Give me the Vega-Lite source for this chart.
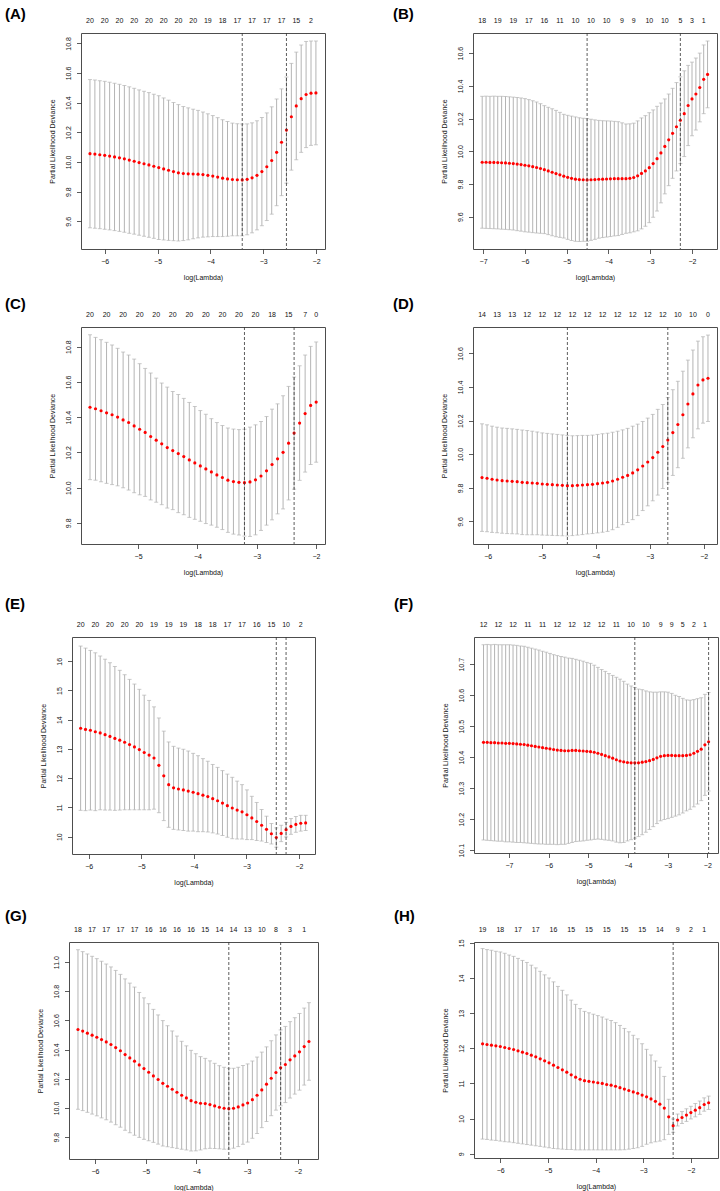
{
"$schema":"https://vega.github.io/schema/vega-lite/v6.json",
"padding":{"left":3,"top":6,"right":0,"bottom":0},
"columns":1,
"align":"none",
"spacing":15,
"concat":[
{"hconcat":[
{"spacing":0,"hconcat":[
{"width":1,"height":1,"data":{"values":[{"a":0}]},"mark":{"type":"point","opacity":0,"size":0},"view":{"stroke":null}},
{"width":244,"height":216,"title":{"text":"(A)","dx":-76,"dy":8.5},
"encoding":{"x":{"field":"x","type":"quantitative","scale":{"domain":[-6.45,-1.83],"nice":false,"zero":false},"axis":{"values":[-6,-5,-4,-3,-2],"format":"d","title":"log(Lambda)"}}},
"layer":[
{"data":{"name":"A"},"mark":{"type":"rule","color":"#b4b4b4"},"encoding":{"y":{"field":"lo","type":"quantitative","scale":{"domain":[9.413,10.87],"nice":false,"zero":false},"axis":{"values":[9.6,9.8,10,10.2,10.4,10.6,10.8],"format":".1f","title":"Partial Likelihood Deviance"}},"y2":{"field":"hi"}}},
{"data":{"name":"A"},"mark":{"type":"tick","orient":"horizontal","size":4,"thickness":1,"color":"#b4b4b4"},"encoding":{"y":{"field":"hi","type":"quantitative","scale":{"domain":[9.413,10.87],"nice":false,"zero":false},"axis":{"values":[9.6,9.8,10,10.2,10.4,10.6,10.8],"format":".1f","title":"Partial Likelihood Deviance"}}}},
{"data":{"name":"A"},"mark":{"type":"tick","orient":"horizontal","size":4,"thickness":1,"color":"#b4b4b4"},"encoding":{"y":{"field":"lo","type":"quantitative","scale":{"domain":[9.413,10.87],"nice":false,"zero":false},"axis":{"values":[9.6,9.8,10,10.2,10.4,10.6,10.8],"format":".1f","title":"Partial Likelihood Deviance"}}}},
{"data":{"name":"A"},"mark":{"type":"circle","size":10,"color":"#ff0000","opacity":1},"encoding":{"y":{"field":"m","type":"quantitative","scale":{"domain":[9.413,10.87],"nice":false,"zero":false},"axis":{"values":[9.6,9.8,10,10.2,10.4,10.6,10.8],"format":".1f","title":"Partial Likelihood Deviance"}}}},
{"data":{"name":"A_v"},"mark":{"type":"rule","color":"#333333","strokeDash":[3,2],"strokeWidth":0.8},"encoding":{}},
{"data":{"name":"A_n"},"mark":{"type":"text","dy":-10,"baseline":"alphabetic"},"encoding":{"y":{"datum":10.87,"type":"quantitative","scale":{"domain":[9.413,10.87],"nice":false,"zero":false},"axis":{"values":[9.6,9.8,10,10.2,10.4,10.6,10.8],"format":".1f","title":"Partial Likelihood Deviance"}},"text":{"field":"n","type":"nominal"}}}
]}
]},
{"width":244,"height":216,"title":{"text":"(B)","dx":-80,"dy":8.5},
"encoding":{"x":{"field":"x","type":"quantitative","scale":{"domain":[-7.24,-1.40],"nice":false,"zero":false},"axis":{"values":[-7,-6,-5,-4,-3,-2],"format":"d","title":"log(Lambda)"}}},
"layer":[
{"data":{"name":"B"},"mark":{"type":"rule","color":"#b4b4b4"},"encoding":{"y":{"field":"lo","type":"quantitative","scale":{"domain":[9.403,10.723],"nice":false,"zero":false},"axis":{"values":[9.6,9.8,10,10.2,10.4,10.6],"format":".1f","title":"Partial Likelihood Deviance"}},"y2":{"field":"hi"}}},
{"data":{"name":"B"},"mark":{"type":"tick","orient":"horizontal","size":4,"thickness":1,"color":"#b4b4b4"},"encoding":{"y":{"field":"hi","type":"quantitative","scale":{"domain":[9.403,10.723],"nice":false,"zero":false},"axis":{"values":[9.6,9.8,10,10.2,10.4,10.6],"format":".1f","title":"Partial Likelihood Deviance"}}}},
{"data":{"name":"B"},"mark":{"type":"tick","orient":"horizontal","size":4,"thickness":1,"color":"#b4b4b4"},"encoding":{"y":{"field":"lo","type":"quantitative","scale":{"domain":[9.403,10.723],"nice":false,"zero":false},"axis":{"values":[9.6,9.8,10,10.2,10.4,10.6],"format":".1f","title":"Partial Likelihood Deviance"}}}},
{"data":{"name":"B"},"mark":{"type":"circle","size":10,"color":"#ff0000","opacity":1},"encoding":{"y":{"field":"m","type":"quantitative","scale":{"domain":[9.403,10.723],"nice":false,"zero":false},"axis":{"values":[9.6,9.8,10,10.2,10.4,10.6],"format":".1f","title":"Partial Likelihood Deviance"}}}},
{"data":{"name":"B_v"},"mark":{"type":"rule","color":"#333333","strokeDash":[3,2],"strokeWidth":0.8},"encoding":{}},
{"data":{"name":"B_n"},"mark":{"type":"text","dy":-10,"baseline":"alphabetic"},"encoding":{"y":{"datum":10.723,"type":"quantitative","scale":{"domain":[9.403,10.723],"nice":false,"zero":false},"axis":{"values":[9.6,9.8,10,10.2,10.4,10.6],"format":".1f","title":"Partial Likelihood Deviance"}},"text":{"field":"n","type":"nominal"}}}
]}
],"spacing":66},
{"columns":1,"align":"none","spacing":20,"concat":[
{"hconcat":[
{"spacing":0,"hconcat":[
{"width":1,"height":1,"data":{"values":[{"a":0}]},"mark":{"type":"point","opacity":0,"size":0},"view":{"stroke":null}},
{"width":244,"height":217,"title":{"text":"(C)","dx":-76,"dy":5},
"encoding":{"x":{"field":"x","type":"quantitative","scale":{"domain":[-5.962,-1.848],"nice":false,"zero":false},"axis":{"values":[-5,-4,-3,-2],"format":"d","title":"log(Lambda)"}}},
"layer":[
{"data":{"name":"C"},"mark":{"type":"rule","color":"#b4b4b4"},"encoding":{"y":{"field":"lo","type":"quantitative","scale":{"domain":[9.68,10.911],"nice":false,"zero":false},"axis":{"values":[9.8,10,10.2,10.4,10.6,10.8],"format":".1f","title":"Partial Likelihood Deviance"}},"y2":{"field":"hi"}}},
{"data":{"name":"C"},"mark":{"type":"tick","orient":"horizontal","size":4,"thickness":1,"color":"#b4b4b4"},"encoding":{"y":{"field":"hi","type":"quantitative","scale":{"domain":[9.68,10.911],"nice":false,"zero":false},"axis":{"values":[9.8,10,10.2,10.4,10.6,10.8],"format":".1f","title":"Partial Likelihood Deviance"}}}},
{"data":{"name":"C"},"mark":{"type":"tick","orient":"horizontal","size":4,"thickness":1,"color":"#b4b4b4"},"encoding":{"y":{"field":"lo","type":"quantitative","scale":{"domain":[9.68,10.911],"nice":false,"zero":false},"axis":{"values":[9.8,10,10.2,10.4,10.6,10.8],"format":".1f","title":"Partial Likelihood Deviance"}}}},
{"data":{"name":"C"},"mark":{"type":"circle","size":10,"color":"#ff0000","opacity":1},"encoding":{"y":{"field":"m","type":"quantitative","scale":{"domain":[9.68,10.911],"nice":false,"zero":false},"axis":{"values":[9.8,10,10.2,10.4,10.6,10.8],"format":".1f","title":"Partial Likelihood Deviance"}}}},
{"data":{"name":"C_v"},"mark":{"type":"rule","color":"#333333","strokeDash":[3,2],"strokeWidth":0.8},"encoding":{}},
{"data":{"name":"C_n"},"mark":{"type":"text","dy":-10,"baseline":"alphabetic"},"encoding":{"y":{"datum":10.911,"type":"quantitative","scale":{"domain":[9.68,10.911],"nice":false,"zero":false},"axis":{"values":[9.8,10,10.2,10.4,10.6,10.8],"format":".1f","title":"Partial Likelihood Deviance"}},"text":{"field":"n","type":"nominal"}}}
]}
]},
{"width":244,"height":217,"title":{"text":"(D)","dx":-80,"dy":5},
"encoding":{"x":{"field":"x","type":"quantitative","scale":{"domain":[-6.272,-1.753],"nice":false,"zero":false},"axis":{"values":[-6,-5,-4,-3,-2],"format":"d","title":"log(Lambda)"}}},
"layer":[
{"data":{"name":"D"},"mark":{"type":"rule","color":"#b4b4b4"},"encoding":{"y":{"field":"lo","type":"quantitative","scale":{"domain":[9.466,10.757],"nice":false,"zero":false},"axis":{"values":[9.6,9.8,10,10.2,10.4,10.6],"format":".1f","title":"Partial Likelihood Deviance"}},"y2":{"field":"hi"}}},
{"data":{"name":"D"},"mark":{"type":"tick","orient":"horizontal","size":4,"thickness":1,"color":"#b4b4b4"},"encoding":{"y":{"field":"hi","type":"quantitative","scale":{"domain":[9.466,10.757],"nice":false,"zero":false},"axis":{"values":[9.6,9.8,10,10.2,10.4,10.6],"format":".1f","title":"Partial Likelihood Deviance"}}}},
{"data":{"name":"D"},"mark":{"type":"tick","orient":"horizontal","size":4,"thickness":1,"color":"#b4b4b4"},"encoding":{"y":{"field":"lo","type":"quantitative","scale":{"domain":[9.466,10.757],"nice":false,"zero":false},"axis":{"values":[9.6,9.8,10,10.2,10.4,10.6],"format":".1f","title":"Partial Likelihood Deviance"}}}},
{"data":{"name":"D"},"mark":{"type":"circle","size":10,"color":"#ff0000","opacity":1},"encoding":{"y":{"field":"m","type":"quantitative","scale":{"domain":[9.466,10.757],"nice":false,"zero":false},"axis":{"values":[9.6,9.8,10,10.2,10.4,10.6],"format":".1f","title":"Partial Likelihood Deviance"}}}},
{"data":{"name":"D_v"},"mark":{"type":"rule","color":"#333333","strokeDash":[3,2],"strokeWidth":0.8},"encoding":{}},
{"data":{"name":"D_n"},"mark":{"type":"text","dy":-10,"baseline":"alphabetic"},"encoding":{"y":{"datum":10.757,"type":"quantitative","scale":{"domain":[9.466,10.757],"nice":false,"zero":false},"axis":{"values":[9.6,9.8,10,10.2,10.4,10.6],"format":".1f","title":"Partial Likelihood Deviance"}},"text":{"field":"n","type":"nominal"}}}
]}
],"spacing":66},
{"columns":1,"align":"none","spacing":22,"concat":[
{"hconcat":[
{"spacing":0,"hconcat":[
{"width":1,"height":1,"data":{"values":[{"a":0}]},"mark":{"type":"point","opacity":0,"size":0},"view":{"stroke":null}},
{"width":243,"height":217,"title":{"text":"(E)","dx":-67,"dy":-5.5},
"encoding":{"x":{"field":"x","type":"quantitative","scale":{"domain":[-6.316,-1.696],"nice":false,"zero":false},"axis":{"values":[-6,-5,-4,-3,-2],"format":"d","title":"log(Lambda)"}}},
"layer":[
{"data":{"name":"E"},"mark":{"type":"rule","color":"#b4b4b4"},"encoding":{"y":{"field":"lo","type":"quantitative","scale":{"domain":[9.407,16.83],"nice":false,"zero":false},"axis":{"values":[10,11,12,13,14,15,16],"format":"d","title":"Partial Likelihood Deviance"}},"y2":{"field":"hi"}}},
{"data":{"name":"E"},"mark":{"type":"tick","orient":"horizontal","size":4,"thickness":1,"color":"#b4b4b4"},"encoding":{"y":{"field":"hi","type":"quantitative","scale":{"domain":[9.407,16.83],"nice":false,"zero":false},"axis":{"values":[10,11,12,13,14,15,16],"format":"d","title":"Partial Likelihood Deviance"}}}},
{"data":{"name":"E"},"mark":{"type":"tick","orient":"horizontal","size":4,"thickness":1,"color":"#b4b4b4"},"encoding":{"y":{"field":"lo","type":"quantitative","scale":{"domain":[9.407,16.83],"nice":false,"zero":false},"axis":{"values":[10,11,12,13,14,15,16],"format":"d","title":"Partial Likelihood Deviance"}}}},
{"data":{"name":"E"},"mark":{"type":"circle","size":10,"color":"#ff0000","opacity":1},"encoding":{"y":{"field":"m","type":"quantitative","scale":{"domain":[9.407,16.83],"nice":false,"zero":false},"axis":{"values":[10,11,12,13,14,15,16],"format":"d","title":"Partial Likelihood Deviance"}}}},
{"data":{"name":"E_v"},"mark":{"type":"rule","color":"#333333","strokeDash":[3,2],"strokeWidth":0.8},"encoding":{}},
{"data":{"name":"E_n"},"mark":{"type":"text","dy":-10,"baseline":"alphabetic"},"encoding":{"y":{"datum":16.83,"type":"quantitative","scale":{"domain":[9.407,16.83],"nice":false,"zero":false},"axis":{"values":[10,11,12,13,14,15,16],"format":"d","title":"Partial Likelihood Deviance"}},"text":{"field":"n","type":"nominal"}}}
]}
]},
{"width":244,"height":216,"title":{"text":"(F)","dx":-80,"dy":-5.5},
"encoding":{"x":{"field":"x","type":"quantitative","scale":{"domain":[-7.88,-1.73],"nice":false,"zero":false},"axis":{"values":[-7,-6,-5,-4,-3,-2],"format":"d","title":"log(Lambda)"}}},
"layer":[
{"data":{"name":"F"},"mark":{"type":"rule","color":"#b4b4b4"},"encoding":{"y":{"field":"lo","type":"quantitative","scale":{"domain":[10.091,10.788],"nice":false,"zero":false},"axis":{"values":[10.1,10.2,10.3,10.4,10.5,10.6,10.7],"format":".1f","title":"Partial Likelihood Deviance"}},"y2":{"field":"hi"}}},
{"data":{"name":"F"},"mark":{"type":"tick","orient":"horizontal","size":4,"thickness":1,"color":"#b4b4b4"},"encoding":{"y":{"field":"hi","type":"quantitative","scale":{"domain":[10.091,10.788],"nice":false,"zero":false},"axis":{"values":[10.1,10.2,10.3,10.4,10.5,10.6,10.7],"format":".1f","title":"Partial Likelihood Deviance"}}}},
{"data":{"name":"F"},"mark":{"type":"tick","orient":"horizontal","size":4,"thickness":1,"color":"#b4b4b4"},"encoding":{"y":{"field":"lo","type":"quantitative","scale":{"domain":[10.091,10.788],"nice":false,"zero":false},"axis":{"values":[10.1,10.2,10.3,10.4,10.5,10.6,10.7],"format":".1f","title":"Partial Likelihood Deviance"}}}},
{"data":{"name":"F"},"mark":{"type":"circle","size":10,"color":"#ff0000","opacity":1},"encoding":{"y":{"field":"m","type":"quantitative","scale":{"domain":[10.091,10.788],"nice":false,"zero":false},"axis":{"values":[10.1,10.2,10.3,10.4,10.5,10.6,10.7],"format":".1f","title":"Partial Likelihood Deviance"}}}},
{"data":{"name":"F_v"},"mark":{"type":"rule","color":"#333333","strokeDash":[3,2],"strokeWidth":0.8},"encoding":{}},
{"data":{"name":"F_n"},"mark":{"type":"text","dy":-10,"baseline":"alphabetic"},"encoding":{"y":{"datum":10.788,"type":"quantitative","scale":{"domain":[10.091,10.788],"nice":false,"zero":false},"axis":{"values":[10.1,10.2,10.3,10.4,10.5,10.6,10.7],"format":".1f","title":"Partial Likelihood Deviance"}},"text":{"field":"n","type":"nominal"}}}
]}
],"spacing":77},
{"hconcat":[
{"spacing":0,"hconcat":[
{"width":1,"height":1,"data":{"values":[{"a":0}]},"mark":{"type":"point","opacity":0,"size":0},"view":{"stroke":null}},
{"width":249,"height":217,"title":{"text":"(G)","dx":-64,"dy":2},
"encoding":{"x":{"field":"x","type":"quantitative","scale":{"domain":[-6.512,-1.599],"nice":false,"zero":false},"axis":{"values":[-6,-5,-4,-3,-2],"format":"d","title":"log(Lambda)"}}},
"layer":[
{"data":{"name":"G"},"mark":{"type":"rule","color":"#b4b4b4"},"encoding":{"y":{"field":"lo","type":"quantitative","scale":{"domain":[9.65,11.138],"nice":false,"zero":false},"axis":{"values":[9.8,10,10.2,10.4,10.6,10.8,11],"format":".1f","title":"Partial Likelihood Deviance"}},"y2":{"field":"hi"}}},
{"data":{"name":"G"},"mark":{"type":"tick","orient":"horizontal","size":4,"thickness":1,"color":"#b4b4b4"},"encoding":{"y":{"field":"hi","type":"quantitative","scale":{"domain":[9.65,11.138],"nice":false,"zero":false},"axis":{"values":[9.8,10,10.2,10.4,10.6,10.8,11],"format":".1f","title":"Partial Likelihood Deviance"}}}},
{"data":{"name":"G"},"mark":{"type":"tick","orient":"horizontal","size":4,"thickness":1,"color":"#b4b4b4"},"encoding":{"y":{"field":"lo","type":"quantitative","scale":{"domain":[9.65,11.138],"nice":false,"zero":false},"axis":{"values":[9.8,10,10.2,10.4,10.6,10.8,11],"format":".1f","title":"Partial Likelihood Deviance"}}}},
{"data":{"name":"G"},"mark":{"type":"circle","size":10,"color":"#ff0000","opacity":1},"encoding":{"y":{"field":"m","type":"quantitative","scale":{"domain":[9.65,11.138],"nice":false,"zero":false},"axis":{"values":[9.8,10,10.2,10.4,10.6,10.8,11],"format":".1f","title":"Partial Likelihood Deviance"}}}},
{"data":{"name":"G_v"},"mark":{"type":"rule","color":"#333333","strokeDash":[3,2],"strokeWidth":0.8},"encoding":{}},
{"data":{"name":"G_n"},"mark":{"type":"text","dy":-10,"baseline":"alphabetic"},"encoding":{"y":{"datum":11.138,"type":"quantitative","scale":{"domain":[9.65,11.138],"nice":false,"zero":false},"axis":{"values":[9.8,10,10.2,10.4,10.6,10.8,11],"format":".1f","title":"Partial Likelihood Deviance"}},"text":{"field":"n","type":"nominal"}}}
]}
]},
{"width":244,"height":216,"title":{"text":"(H)","dx":-80,"dy":2},
"encoding":{"x":{"field":"x","type":"quantitative","scale":{"domain":[-6.55,-1.43],"nice":false,"zero":false},"axis":{"values":[-6,-5,-4,-3,-2],"format":"d","title":"log(Lambda)"}}},
"layer":[
{"data":{"name":"H"},"mark":{"type":"rule","color":"#b4b4b4"},"encoding":{"y":{"field":"lo","type":"quantitative","scale":{"domain":[8.879,15.024],"nice":false,"zero":false},"axis":{"values":[9,10,11,12,13,14,15],"format":"d","title":"Partial Likelihood Deviance"}},"y2":{"field":"hi"}}},
{"data":{"name":"H"},"mark":{"type":"tick","orient":"horizontal","size":4,"thickness":1,"color":"#b4b4b4"},"encoding":{"y":{"field":"hi","type":"quantitative","scale":{"domain":[8.879,15.024],"nice":false,"zero":false},"axis":{"values":[9,10,11,12,13,14,15],"format":"d","title":"Partial Likelihood Deviance"}}}},
{"data":{"name":"H"},"mark":{"type":"tick","orient":"horizontal","size":4,"thickness":1,"color":"#b4b4b4"},"encoding":{"y":{"field":"lo","type":"quantitative","scale":{"domain":[8.879,15.024],"nice":false,"zero":false},"axis":{"values":[9,10,11,12,13,14,15],"format":"d","title":"Partial Likelihood Deviance"}}}},
{"data":{"name":"H"},"mark":{"type":"circle","size":10,"color":"#ff0000","opacity":1},"encoding":{"y":{"field":"m","type":"quantitative","scale":{"domain":[8.879,15.024],"nice":false,"zero":false},"axis":{"values":[9,10,11,12,13,14,15],"format":"d","title":"Partial Likelihood Deviance"}}}},
{"data":{"name":"H_v"},"mark":{"type":"rule","color":"#333333","strokeDash":[3,2],"strokeWidth":0.8},"encoding":{}},
{"data":{"name":"H_n"},"mark":{"type":"text","dy":-10,"baseline":"alphabetic"},"encoding":{"y":{"datum":15.024,"type":"quantitative","scale":{"domain":[8.879,15.024],"nice":false,"zero":false},"axis":{"values":[9,10,11,12,13,14,15],"format":"d","title":"Partial Likelihood Deviance"}},"text":{"field":"n","type":"nominal"}}}
]}
],"spacing":74}
]}
]}
],
"datasets":{
"A":[
{"x":-6.280,"m":10.056,"lo":9.556,"hi":10.556},{"x":-6.187,"m":10.053,"lo":9.553,"hi":10.553},{"x":-6.094,"m":10.049,"lo":9.550,"hi":10.548},{"x":-6.001,"m":10.045,"lo":9.546,"hi":10.544},{"x":-5.908,"m":10.040,"lo":9.542,"hi":10.538},{"x":-5.815,"m":10.034,"lo":9.537,"hi":10.531},{"x":-5.722,"m":10.028,"lo":9.532,"hi":10.524},{"x":-5.629,"m":10.021,"lo":9.526,"hi":10.516},{"x":-5.536,"m":10.013,"lo":9.519,"hi":10.507},{"x":-5.443,"m":10.005,"lo":9.513,"hi":10.497},{"x":-5.350,"m":9.996,"lo":9.506,"hi":10.486},{"x":-5.257,"m":9.988,"lo":9.499,"hi":10.477},{"x":-5.164,"m":9.980,"lo":9.492,"hi":10.468},{"x":-5.071,"m":9.971,"lo":9.485,"hi":10.457},{"x":-4.978,"m":9.962,"lo":9.477,"hi":10.447},{"x":-4.885,"m":9.953,"lo":9.474,"hi":10.432},{"x":-4.792,"m":9.944,"lo":9.471,"hi":10.417},{"x":-4.699,"m":9.935,"lo":9.469,"hi":10.401},{"x":-4.606,"m":9.927,"lo":9.467,"hi":10.387},{"x":-4.513,"m":9.922,"lo":9.470,"hi":10.374},{"x":-4.420,"m":9.920,"lo":9.475,"hi":10.365},{"x":-4.327,"m":9.919,"lo":9.482,"hi":10.356},{"x":-4.234,"m":9.918,"lo":9.488,"hi":10.348},{"x":-4.141,"m":9.915,"lo":9.493,"hi":10.337},{"x":-4.048,"m":9.910,"lo":9.495,"hi":10.325},{"x":-3.955,"m":9.905,"lo":9.497,"hi":10.313},{"x":-3.862,"m":9.898,"lo":9.497,"hi":10.299},{"x":-3.769,"m":9.891,"lo":9.497,"hi":10.285},{"x":-3.676,"m":9.886,"lo":9.499,"hi":10.273},{"x":-3.583,"m":9.882,"lo":9.502,"hi":10.262},{"x":-3.490,"m":9.880,"lo":9.502,"hi":10.258},{"x":-3.397,"m":9.879,"lo":9.502,"hi":10.256},{"x":-3.304,"m":9.883,"lo":9.509,"hi":10.257},{"x":-3.211,"m":9.893,"lo":9.522,"hi":10.264},{"x":-3.118,"m":9.910,"lo":9.542,"hi":10.278},{"x":-3.025,"m":9.935,"lo":9.570,"hi":10.300},{"x":-2.932,"m":9.968,"lo":9.605,"hi":10.331},{"x":-2.839,"m":10.010,"lo":9.648,"hi":10.372},{"x":-2.746,"m":10.065,"lo":9.705,"hi":10.425},{"x":-2.653,"m":10.133,"lo":9.773,"hi":10.493},{"x":-2.560,"m":10.215,"lo":9.857,"hi":10.573},{"x":-2.467,"m":10.305,"lo":9.945,"hi":10.665},{"x":-2.374,"m":10.378,"lo":10.015,"hi":10.741},{"x":-2.281,"m":10.427,"lo":10.065,"hi":10.789},{"x":-2.188,"m":10.455,"lo":10.097,"hi":10.813},{"x":-2.095,"m":10.464,"lo":10.112,"hi":10.816},{"x":-2.002,"m":10.466,"lo":10.116,"hi":10.816}],
"A_n":[{"x":-6.280,"n":"20"},{"x":-6.001,"n":"20"},{"x":-5.722,"n":"20"},{"x":-5.443,"n":"20"},{"x":-5.164,"n":"20"},{"x":-4.885,"n":"20"},{"x":-4.606,"n":"20"},{"x":-4.327,"n":"20"},{"x":-4.048,"n":"19"},{"x":-3.769,"n":"18"},{"x":-3.490,"n":"17"},{"x":-3.211,"n":"17"},{"x":-2.932,"n":"17"},{"x":-2.653,"n":"17"},{"x":-2.374,"n":"15"},{"x":-2.095,"n":"2"}],
"A_v":[{"x":-3.397},{"x":-2.560}],
"B":[
{"x":-7.020,"m":9.933,"lo":9.530,"hi":10.336},{"x":-6.927,"m":9.933,"lo":9.529,"hi":10.337},{"x":-6.834,"m":9.932,"lo":9.528,"hi":10.336},{"x":-6.741,"m":9.932,"lo":9.527,"hi":10.337},{"x":-6.648,"m":9.931,"lo":9.526,"hi":10.336},{"x":-6.555,"m":9.930,"lo":9.524,"hi":10.336},{"x":-6.462,"m":9.929,"lo":9.523,"hi":10.335},{"x":-6.369,"m":9.927,"lo":9.521,"hi":10.333},{"x":-6.276,"m":9.925,"lo":9.519,"hi":10.331},{"x":-6.183,"m":9.922,"lo":9.515,"hi":10.329},{"x":-6.090,"m":9.919,"lo":9.512,"hi":10.326},{"x":-5.997,"m":9.915,"lo":9.508,"hi":10.322},{"x":-5.904,"m":9.911,"lo":9.506,"hi":10.316},{"x":-5.811,"m":9.906,"lo":9.503,"hi":10.309},{"x":-5.718,"m":9.901,"lo":9.501,"hi":10.301},{"x":-5.625,"m":9.895,"lo":9.499,"hi":10.291},{"x":-5.532,"m":9.888,"lo":9.497,"hi":10.279},{"x":-5.439,"m":9.880,"lo":9.491,"hi":10.269},{"x":-5.346,"m":9.872,"lo":9.484,"hi":10.260},{"x":-5.253,"m":9.864,"lo":9.478,"hi":10.250},{"x":-5.160,"m":9.856,"lo":9.474,"hi":10.238},{"x":-5.067,"m":9.848,"lo":9.470,"hi":10.226},{"x":-4.974,"m":9.841,"lo":9.462,"hi":10.220},{"x":-4.881,"m":9.835,"lo":9.455,"hi":10.215},{"x":-4.788,"m":9.830,"lo":9.450,"hi":10.210},{"x":-4.695,"m":9.827,"lo":9.449,"hi":10.205},{"x":-4.602,"m":9.826,"lo":9.450,"hi":10.202},{"x":-4.509,"m":9.825,"lo":9.450,"hi":10.200},{"x":-4.416,"m":9.826,"lo":9.456,"hi":10.196},{"x":-4.323,"m":9.827,"lo":9.462,"hi":10.192},{"x":-4.230,"m":9.829,"lo":9.469,"hi":10.189},{"x":-4.137,"m":9.830,"lo":9.473,"hi":10.187},{"x":-4.044,"m":9.831,"lo":9.476,"hi":10.186},{"x":-3.951,"m":9.832,"lo":9.479,"hi":10.185},{"x":-3.858,"m":9.833,"lo":9.483,"hi":10.183},{"x":-3.765,"m":9.833,"lo":9.485,"hi":10.181},{"x":-3.672,"m":9.833,"lo":9.492,"hi":10.174},{"x":-3.579,"m":9.833,"lo":9.499,"hi":10.167},{"x":-3.486,"m":9.835,"lo":9.502,"hi":10.168},{"x":-3.393,"m":9.840,"lo":9.508,"hi":10.172},{"x":-3.300,"m":9.850,"lo":9.514,"hi":10.186},{"x":-3.207,"m":9.865,"lo":9.526,"hi":10.204},{"x":-3.114,"m":9.880,"lo":9.542,"hi":10.218},{"x":-3.021,"m":9.900,"lo":9.564,"hi":10.236},{"x":-2.928,"m":9.925,"lo":9.597,"hi":10.253},{"x":-2.835,"m":9.955,"lo":9.635,"hi":10.275},{"x":-2.742,"m":9.990,"lo":9.685,"hi":10.295},{"x":-2.649,"m":10.030,"lo":9.740,"hi":10.320},{"x":-2.556,"m":10.070,"lo":9.790,"hi":10.350},{"x":-2.463,"m":10.110,"lo":9.835,"hi":10.385},{"x":-2.370,"m":10.150,"lo":9.880,"hi":10.420},{"x":-2.277,"m":10.190,"lo":9.925,"hi":10.455},{"x":-2.184,"m":10.230,"lo":9.968,"hi":10.492},{"x":-2.091,"m":10.280,"lo":10.035,"hi":10.525},{"x":-1.998,"m":10.320,"lo":10.095,"hi":10.545},{"x":-1.905,"m":10.350,"lo":10.130,"hi":10.570},{"x":-1.812,"m":10.390,"lo":10.180,"hi":10.600},{"x":-1.719,"m":10.440,"lo":10.230,"hi":10.650},{"x":-1.626,"m":10.470,"lo":10.266,"hi":10.674}],
"B_n":[{"x":-7.020,"n":"18"},{"x":-6.648,"n":"19"},{"x":-6.276,"n":"19"},{"x":-5.904,"n":"17"},{"x":-5.532,"n":"16"},{"x":-5.160,"n":"11"},{"x":-4.788,"n":"10"},{"x":-4.416,"n":"10"},{"x":-4.044,"n":"10"},{"x":-3.672,"n":"9"},{"x":-3.393,"n":"9"},{"x":-3.021,"n":"10"},{"x":-2.649,"n":"10"},{"x":-2.277,"n":"5"},{"x":-1.998,"n":"3"},{"x":-1.719,"n":"1"}],
"B_v":[{"x":-4.509},{"x":-2.277}],
"C":[
{"x":-5.810,"m":10.456,"lo":10.045,"hi":10.867},{"x":-5.717,"m":10.447,"lo":10.042,"hi":10.852},{"x":-5.624,"m":10.436,"lo":10.033,"hi":10.839},{"x":-5.531,"m":10.424,"lo":10.024,"hi":10.824},{"x":-5.438,"m":10.413,"lo":10.017,"hi":10.809},{"x":-5.345,"m":10.400,"lo":10.010,"hi":10.790},{"x":-5.252,"m":10.384,"lo":9.999,"hi":10.769},{"x":-5.159,"m":10.369,"lo":9.986,"hi":10.752},{"x":-5.066,"m":10.350,"lo":9.971,"hi":10.729},{"x":-4.973,"m":10.331,"lo":9.959,"hi":10.703},{"x":-4.880,"m":10.313,"lo":9.950,"hi":10.676},{"x":-4.787,"m":10.290,"lo":9.930,"hi":10.650},{"x":-4.694,"m":10.269,"lo":9.917,"hi":10.621},{"x":-4.601,"m":10.248,"lo":9.903,"hi":10.593},{"x":-4.508,"m":10.227,"lo":9.884,"hi":10.570},{"x":-4.415,"m":10.210,"lo":9.875,"hi":10.545},{"x":-4.322,"m":10.193,"lo":9.858,"hi":10.528},{"x":-4.229,"m":10.176,"lo":9.846,"hi":10.506},{"x":-4.136,"m":10.157,"lo":9.831,"hi":10.483},{"x":-4.043,"m":10.140,"lo":9.820,"hi":10.460},{"x":-3.950,"m":10.123,"lo":9.809,"hi":10.437},{"x":-3.857,"m":10.106,"lo":9.796,"hi":10.416},{"x":-3.764,"m":10.089,"lo":9.787,"hi":10.391},{"x":-3.671,"m":10.072,"lo":9.775,"hi":10.369},{"x":-3.578,"m":10.057,"lo":9.762,"hi":10.352},{"x":-3.485,"m":10.042,"lo":9.746,"hi":10.338},{"x":-3.392,"m":10.034,"lo":9.736,"hi":10.332},{"x":-3.299,"m":10.030,"lo":9.731,"hi":10.329},{"x":-3.206,"m":10.028,"lo":9.725,"hi":10.331},{"x":-3.113,"m":10.032,"lo":9.723,"hi":10.343},{"x":-3.020,"m":10.044,"lo":9.732,"hi":10.356},{"x":-2.927,"m":10.066,"lo":9.757,"hi":10.375},{"x":-2.834,"m":10.095,"lo":9.787,"hi":10.403},{"x":-2.741,"m":10.131,"lo":9.817,"hi":10.445},{"x":-2.648,"m":10.163,"lo":9.851,"hi":10.475},{"x":-2.555,"m":10.200,"lo":9.879,"hi":10.521},{"x":-2.462,"m":10.252,"lo":9.930,"hi":10.574},{"x":-2.369,"m":10.309,"lo":9.991,"hi":10.627},{"x":-2.276,"m":10.366,"lo":10.041,"hi":10.691},{"x":-2.183,"m":10.420,"lo":10.088,"hi":10.752},{"x":-2.090,"m":10.466,"lo":10.131,"hi":10.801},{"x":-1.997,"m":10.485,"lo":10.144,"hi":10.826}],
"C_n":[{"x":-5.810,"n":"20"},{"x":-5.531,"n":"20"},{"x":-5.252,"n":"20"},{"x":-4.973,"n":"20"},{"x":-4.694,"n":"20"},{"x":-4.415,"n":"20"},{"x":-4.136,"n":"20"},{"x":-3.857,"n":"20"},{"x":-3.578,"n":"20"},{"x":-3.299,"n":"20"},{"x":-3.020,"n":"20"},{"x":-2.741,"n":"18"},{"x":-2.462,"n":"15"},{"x":-2.183,"n":"7"},{"x":-1.997,"n":"0"}],
"C_v":[{"x":-3.206},{"x":-2.369}],
"D":[
{"x":-6.105,"m":9.861,"lo":9.541,"hi":10.181},{"x":-6.012,"m":9.857,"lo":9.539,"hi":10.175},{"x":-5.919,"m":9.851,"lo":9.535,"hi":10.167},{"x":-5.826,"m":9.847,"lo":9.533,"hi":10.161},{"x":-5.733,"m":9.843,"lo":9.530,"hi":10.156},{"x":-5.640,"m":9.841,"lo":9.528,"hi":10.154},{"x":-5.547,"m":9.839,"lo":9.527,"hi":10.151},{"x":-5.454,"m":9.837,"lo":9.526,"hi":10.148},{"x":-5.361,"m":9.833,"lo":9.522,"hi":10.144},{"x":-5.268,"m":9.831,"lo":9.521,"hi":10.141},{"x":-5.175,"m":9.829,"lo":9.521,"hi":10.137},{"x":-5.082,"m":9.827,"lo":9.521,"hi":10.133},{"x":-4.989,"m":9.823,"lo":9.519,"hi":10.127},{"x":-4.896,"m":9.821,"lo":9.518,"hi":10.124},{"x":-4.803,"m":9.819,"lo":9.517,"hi":10.121},{"x":-4.710,"m":9.817,"lo":9.516,"hi":10.118},{"x":-4.617,"m":9.815,"lo":9.515,"hi":10.115},{"x":-4.524,"m":9.813,"lo":9.514,"hi":10.112},{"x":-4.431,"m":9.813,"lo":9.516,"hi":10.110},{"x":-4.338,"m":9.815,"lo":9.519,"hi":10.111},{"x":-4.245,"m":9.817,"lo":9.522,"hi":10.112},{"x":-4.152,"m":9.819,"lo":9.526,"hi":10.112},{"x":-4.059,"m":9.821,"lo":9.528,"hi":10.114},{"x":-3.966,"m":9.825,"lo":9.532,"hi":10.118},{"x":-3.873,"m":9.829,"lo":9.536,"hi":10.122},{"x":-3.780,"m":9.833,"lo":9.541,"hi":10.125},{"x":-3.687,"m":9.841,"lo":9.551,"hi":10.131},{"x":-3.594,"m":9.851,"lo":9.565,"hi":10.137},{"x":-3.501,"m":9.863,"lo":9.581,"hi":10.145},{"x":-3.408,"m":9.874,"lo":9.594,"hi":10.154},{"x":-3.315,"m":9.889,"lo":9.611,"hi":10.167},{"x":-3.222,"m":9.907,"lo":9.635,"hi":10.179},{"x":-3.129,"m":9.930,"lo":9.665,"hi":10.195},{"x":-3.036,"m":9.954,"lo":9.693,"hi":10.215},{"x":-2.943,"m":9.980,"lo":9.723,"hi":10.237},{"x":-2.850,"m":10.012,"lo":9.757,"hi":10.267},{"x":-2.757,"m":10.046,"lo":9.796,"hi":10.296},{"x":-2.664,"m":10.084,"lo":9.831,"hi":10.337},{"x":-2.571,"m":10.129,"lo":9.874,"hi":10.384},{"x":-2.478,"m":10.177,"lo":9.920,"hi":10.434},{"x":-2.385,"m":10.235,"lo":9.976,"hi":10.494},{"x":-2.292,"m":10.299,"lo":10.038,"hi":10.560},{"x":-2.199,"m":10.359,"lo":10.098,"hi":10.620},{"x":-2.106,"m":10.412,"lo":10.151,"hi":10.673},{"x":-2.013,"m":10.442,"lo":10.185,"hi":10.699},{"x":-1.920,"m":10.452,"lo":10.195,"hi":10.709}],
"D_n":[{"x":-6.105,"n":"14"},{"x":-5.826,"n":"13"},{"x":-5.547,"n":"13"},{"x":-5.268,"n":"12"},{"x":-4.989,"n":"12"},{"x":-4.710,"n":"12"},{"x":-4.431,"n":"12"},{"x":-4.152,"n":"12"},{"x":-3.873,"n":"12"},{"x":-3.594,"n":"12"},{"x":-3.315,"n":"12"},{"x":-3.036,"n":"12"},{"x":-2.757,"n":"12"},{"x":-2.478,"n":"10"},{"x":-2.199,"n":"10"},{"x":-1.920,"n":"0"}],
"D_v":[{"x":-4.524},{"x":-2.664}],
"E":[
{"x":-6.152,"m":13.71,"lo":10.90,"hi":16.52},{"x":-6.059,"m":13.67,"lo":10.89,"hi":16.45},{"x":-5.966,"m":13.64,"lo":10.91,"hi":16.37},{"x":-5.873,"m":13.59,"lo":10.89,"hi":16.29},{"x":-5.780,"m":13.55,"lo":10.92,"hi":16.18},{"x":-5.687,"m":13.49,"lo":10.91,"hi":16.07},{"x":-5.594,"m":13.43,"lo":10.91,"hi":15.95},{"x":-5.501,"m":13.36,"lo":10.90,"hi":15.82},{"x":-5.408,"m":13.30,"lo":10.91,"hi":15.69},{"x":-5.315,"m":13.23,"lo":10.92,"hi":15.54},{"x":-5.222,"m":13.15,"lo":10.92,"hi":15.38},{"x":-5.129,"m":13.07,"lo":10.92,"hi":15.22},{"x":-5.036,"m":12.98,"lo":10.92,"hi":15.04},{"x":-4.943,"m":12.88,"lo":10.92,"hi":14.84},{"x":-4.850,"m":12.79,"lo":10.92,"hi":14.66},{"x":-4.757,"m":12.69,"lo":10.94,"hi":14.44},{"x":-4.664,"m":12.44,"lo":10.82,"hi":14.06},{"x":-4.571,"m":12.08,"lo":10.55,"hi":13.61},{"x":-4.478,"m":11.78,"lo":10.32,"hi":13.24},{"x":-4.385,"m":11.67,"lo":10.25,"hi":13.09},{"x":-4.292,"m":11.63,"lo":10.23,"hi":13.03},{"x":-4.199,"m":11.60,"lo":10.21,"hi":12.99},{"x":-4.106,"m":11.56,"lo":10.19,"hi":12.93},{"x":-4.013,"m":11.52,"lo":10.19,"hi":12.85},{"x":-3.920,"m":11.47,"lo":10.17,"hi":12.77},{"x":-3.827,"m":11.42,"lo":10.17,"hi":12.67},{"x":-3.734,"m":11.37,"lo":10.16,"hi":12.58},{"x":-3.641,"m":11.30,"lo":10.13,"hi":12.47},{"x":-3.548,"m":11.23,"lo":10.09,"hi":12.37},{"x":-3.455,"m":11.15,"lo":10.04,"hi":12.26},{"x":-3.362,"m":11.06,"lo":9.98,"hi":12.14},{"x":-3.269,"m":10.98,"lo":9.93,"hi":12.03},{"x":-3.176,"m":10.91,"lo":9.92,"hi":11.90},{"x":-3.083,"m":10.85,"lo":9.92,"hi":11.78},{"x":-2.990,"m":10.75,"lo":9.90,"hi":11.60},{"x":-2.897,"m":10.64,"lo":9.90,"hi":11.38},{"x":-2.804,"m":10.52,"lo":9.87,"hi":11.17},{"x":-2.711,"m":10.39,"lo":9.85,"hi":10.93},{"x":-2.618,"m":10.25,"lo":9.80,"hi":10.70},{"x":-2.525,"m":10.10,"lo":9.75,"hi":10.45},{"x":-2.432,"m":9.97,"lo":9.64,"hi":10.30},{"x":-2.339,"m":10.11,"lo":9.83,"hi":10.39},{"x":-2.246,"m":10.24,"lo":9.99,"hi":10.49},{"x":-2.153,"m":10.35,"lo":10.08,"hi":10.62},{"x":-2.060,"m":10.42,"lo":10.15,"hi":10.69},{"x":-1.967,"m":10.46,"lo":10.19,"hi":10.73},{"x":-1.874,"m":10.47,"lo":10.21,"hi":10.73}],
"E_n":[{"x":-6.152,"n":"20"},{"x":-5.873,"n":"20"},{"x":-5.594,"n":"20"},{"x":-5.315,"n":"20"},{"x":-5.036,"n":"20"},{"x":-4.757,"n":"19"},{"x":-4.478,"n":"19"},{"x":-4.199,"n":"19"},{"x":-3.920,"n":"18"},{"x":-3.641,"n":"18"},{"x":-3.362,"n":"17"},{"x":-3.083,"n":"17"},{"x":-2.804,"n":"16"},{"x":-2.525,"n":"15"},{"x":-2.246,"n":"10"},{"x":-1.967,"n":"2"}],
"E_v":[{"x":-2.432},{"x":-2.246}],
"F":[
{"x":-7.640,"m":10.448,"lo":10.133,"hi":10.763},{"x":-7.547,"m":10.448,"lo":10.132,"hi":10.764},{"x":-7.454,"m":10.447,"lo":10.131,"hi":10.763},{"x":-7.361,"m":10.447,"lo":10.130,"hi":10.764},{"x":-7.268,"m":10.446,"lo":10.129,"hi":10.763},{"x":-7.175,"m":10.446,"lo":10.129,"hi":10.763},{"x":-7.082,"m":10.445,"lo":10.127,"hi":10.763},{"x":-6.989,"m":10.445,"lo":10.127,"hi":10.763},{"x":-6.896,"m":10.444,"lo":10.126,"hi":10.762},{"x":-6.803,"m":10.443,"lo":10.125,"hi":10.761},{"x":-6.710,"m":10.442,"lo":10.125,"hi":10.759},{"x":-6.617,"m":10.441,"lo":10.124,"hi":10.758},{"x":-6.524,"m":10.439,"lo":10.123,"hi":10.755},{"x":-6.431,"m":10.437,"lo":10.122,"hi":10.752},{"x":-6.338,"m":10.435,"lo":10.121,"hi":10.749},{"x":-6.245,"m":10.433,"lo":10.120,"hi":10.746},{"x":-6.152,"m":10.431,"lo":10.120,"hi":10.742},{"x":-6.059,"m":10.429,"lo":10.119,"hi":10.739},{"x":-5.966,"m":10.427,"lo":10.119,"hi":10.735},{"x":-5.873,"m":10.425,"lo":10.119,"hi":10.731},{"x":-5.780,"m":10.423,"lo":10.118,"hi":10.728},{"x":-5.687,"m":10.422,"lo":10.119,"hi":10.725},{"x":-5.594,"m":10.421,"lo":10.119,"hi":10.723},{"x":-5.501,"m":10.421,"lo":10.122,"hi":10.720},{"x":-5.408,"m":10.422,"lo":10.125,"hi":10.719},{"x":-5.315,"m":10.422,"lo":10.128,"hi":10.716},{"x":-5.222,"m":10.421,"lo":10.129,"hi":10.713},{"x":-5.129,"m":10.420,"lo":10.130,"hi":10.710},{"x":-5.036,"m":10.419,"lo":10.132,"hi":10.706},{"x":-4.943,"m":10.418,"lo":10.133,"hi":10.703},{"x":-4.850,"m":10.416,"lo":10.135,"hi":10.697},{"x":-4.757,"m":10.413,"lo":10.136,"hi":10.690},{"x":-4.664,"m":10.409,"lo":10.135,"hi":10.683},{"x":-4.571,"m":10.405,"lo":10.133,"hi":10.677},{"x":-4.478,"m":10.401,"lo":10.132,"hi":10.670},{"x":-4.385,"m":10.397,"lo":10.130,"hi":10.664},{"x":-4.292,"m":10.392,"lo":10.126,"hi":10.658},{"x":-4.199,"m":10.388,"lo":10.124,"hi":10.652},{"x":-4.106,"m":10.385,"lo":10.125,"hi":10.645},{"x":-4.013,"m":10.383,"lo":10.130,"hi":10.636},{"x":-3.920,"m":10.382,"lo":10.134,"hi":10.630},{"x":-3.827,"m":10.382,"lo":10.139,"hi":10.625},{"x":-3.734,"m":10.382,"lo":10.144,"hi":10.620},{"x":-3.641,"m":10.384,"lo":10.150,"hi":10.618},{"x":-3.548,"m":10.386,"lo":10.158,"hi":10.614},{"x":-3.455,"m":10.389,"lo":10.167,"hi":10.611},{"x":-3.362,"m":10.393,"lo":10.176,"hi":10.610},{"x":-3.269,"m":10.398,"lo":10.186,"hi":10.610},{"x":-3.176,"m":10.403,"lo":10.195,"hi":10.611},{"x":-3.083,"m":10.405,"lo":10.199,"hi":10.611},{"x":-2.990,"m":10.406,"lo":10.202,"hi":10.610},{"x":-2.897,"m":10.406,"lo":10.206,"hi":10.606},{"x":-2.804,"m":10.405,"lo":10.210,"hi":10.600},{"x":-2.711,"m":10.405,"lo":10.214,"hi":10.596},{"x":-2.618,"m":10.405,"lo":10.220,"hi":10.590},{"x":-2.525,"m":10.406,"lo":10.227,"hi":10.585},{"x":-2.432,"m":10.408,"lo":10.232,"hi":10.584},{"x":-2.339,"m":10.413,"lo":10.240,"hi":10.586},{"x":-2.246,"m":10.419,"lo":10.249,"hi":10.589},{"x":-2.153,"m":10.426,"lo":10.260,"hi":10.592},{"x":-2.060,"m":10.440,"lo":10.277,"hi":10.603},{"x":-1.967,"m":10.450,"lo":10.291,"hi":10.609}],
"F_n":[{"x":-7.640,"n":"12"},{"x":-7.268,"n":"12"},{"x":-6.896,"n":"12"},{"x":-6.524,"n":"11"},{"x":-6.152,"n":"11"},{"x":-5.780,"n":"12"},{"x":-5.408,"n":"12"},{"x":-5.036,"n":"12"},{"x":-4.664,"n":"12"},{"x":-4.292,"n":"11"},{"x":-3.920,"n":"10"},{"x":-3.548,"n":"10"},{"x":-3.176,"n":"9"},{"x":-2.897,"n":"9"},{"x":-2.618,"n":"5"},{"x":-2.339,"n":"2"},{"x":-2.060,"n":"1"}],
"F_v":[{"x":-3.827},{"x":-1.967}],
"G":[
{"x":-6.335,"m":10.538,"lo":9.991,"hi":11.085},{"x":-6.242,"m":10.527,"lo":9.982,"hi":11.072},{"x":-6.149,"m":10.513,"lo":9.970,"hi":11.056},{"x":-6.056,"m":10.499,"lo":9.958,"hi":11.040},{"x":-5.963,"m":10.485,"lo":9.946,"hi":11.024},{"x":-5.870,"m":10.469,"lo":9.932,"hi":11.006},{"x":-5.777,"m":10.453,"lo":9.919,"hi":10.987},{"x":-5.684,"m":10.435,"lo":9.903,"hi":10.967},{"x":-5.591,"m":10.414,"lo":9.885,"hi":10.943},{"x":-5.498,"m":10.392,"lo":9.868,"hi":10.916},{"x":-5.405,"m":10.366,"lo":9.847,"hi":10.885},{"x":-5.312,"m":10.343,"lo":9.830,"hi":10.856},{"x":-5.219,"m":10.321,"lo":9.813,"hi":10.829},{"x":-5.126,"m":10.295,"lo":9.798,"hi":10.792},{"x":-5.033,"m":10.270,"lo":9.785,"hi":10.755},{"x":-4.940,"m":10.245,"lo":9.775,"hi":10.715},{"x":-4.847,"m":10.220,"lo":9.764,"hi":10.676},{"x":-4.754,"m":10.195,"lo":9.752,"hi":10.638},{"x":-4.661,"m":10.169,"lo":9.739,"hi":10.599},{"x":-4.568,"m":10.149,"lo":9.734,"hi":10.564},{"x":-4.475,"m":10.128,"lo":9.728,"hi":10.528},{"x":-4.382,"m":10.108,"lo":9.723,"hi":10.493},{"x":-4.289,"m":10.087,"lo":9.717,"hi":10.457},{"x":-4.196,"m":10.069,"lo":9.712,"hi":10.426},{"x":-4.103,"m":10.050,"lo":9.705,"hi":10.395},{"x":-4.010,"m":10.039,"lo":9.706,"hi":10.372},{"x":-3.917,"m":10.032,"lo":9.712,"hi":10.352},{"x":-3.824,"m":10.030,"lo":9.720,"hi":10.340},{"x":-3.731,"m":10.023,"lo":9.723,"hi":10.323},{"x":-3.638,"m":10.014,"lo":9.722,"hi":10.306},{"x":-3.545,"m":10.005,"lo":9.720,"hi":10.290},{"x":-3.452,"m":9.998,"lo":9.717,"hi":10.279},{"x":-3.359,"m":9.995,"lo":9.718,"hi":10.272},{"x":-3.266,"m":9.998,"lo":9.724,"hi":10.272},{"x":-3.173,"m":10.007,"lo":9.735,"hi":10.279},{"x":-3.080,"m":10.021,"lo":9.751,"hi":10.291},{"x":-2.987,"m":10.034,"lo":9.766,"hi":10.302},{"x":-2.894,"m":10.057,"lo":9.792,"hi":10.322},{"x":-2.801,"m":10.087,"lo":9.825,"hi":10.349},{"x":-2.708,"m":10.124,"lo":9.865,"hi":10.383},{"x":-2.615,"m":10.163,"lo":9.907,"hi":10.419},{"x":-2.522,"m":10.204,"lo":9.947,"hi":10.461},{"x":-2.429,"m":10.243,"lo":9.985,"hi":10.501},{"x":-2.336,"m":10.275,"lo":10.015,"hi":10.535},{"x":-2.243,"m":10.298,"lo":10.037,"hi":10.559},{"x":-2.150,"m":10.330,"lo":10.068,"hi":10.592},{"x":-2.057,"m":10.357,"lo":10.095,"hi":10.619},{"x":-1.964,"m":10.385,"lo":10.122,"hi":10.648},{"x":-1.871,"m":10.421,"lo":10.157,"hi":10.685},{"x":-1.778,"m":10.456,"lo":10.190,"hi":10.722}],
"G_n":[{"x":-6.335,"n":"18"},{"x":-6.056,"n":"17"},{"x":-5.777,"n":"17"},{"x":-5.498,"n":"17"},{"x":-5.219,"n":"17"},{"x":-4.940,"n":"16"},{"x":-4.661,"n":"16"},{"x":-4.382,"n":"16"},{"x":-4.103,"n":"16"},{"x":-3.824,"n":"15"},{"x":-3.545,"n":"14"},{"x":-3.266,"n":"14"},{"x":-2.987,"n":"13"},{"x":-2.708,"n":"10"},{"x":-2.429,"n":"8"},{"x":-2.150,"n":"3"},{"x":-1.871,"n":"1"}],
"G_v":[{"x":-3.359},{"x":-2.336}],
"H":[
{"x":-6.370,"m":12.127,"lo":9.417,"hi":14.837},{"x":-6.277,"m":12.108,"lo":9.408,"hi":14.808},{"x":-6.184,"m":12.089,"lo":9.389,"hi":14.789},{"x":-6.091,"m":12.070,"lo":9.380,"hi":14.760},{"x":-5.998,"m":12.051,"lo":9.361,"hi":14.741},{"x":-5.905,"m":12.023,"lo":9.343,"hi":14.703},{"x":-5.812,"m":11.994,"lo":9.334,"hi":14.654},{"x":-5.719,"m":11.966,"lo":9.316,"hi":14.616},{"x":-5.626,"m":11.928,"lo":9.298,"hi":14.558},{"x":-5.533,"m":11.890,"lo":9.280,"hi":14.500},{"x":-5.440,"m":11.852,"lo":9.262,"hi":14.442},{"x":-5.347,"m":11.804,"lo":9.244,"hi":14.364},{"x":-5.254,"m":11.757,"lo":9.227,"hi":14.287},{"x":-5.161,"m":11.700,"lo":9.210,"hi":14.190},{"x":-5.068,"m":11.643,"lo":9.190,"hi":14.090},{"x":-4.975,"m":11.586,"lo":9.170,"hi":14.000},{"x":-4.882,"m":11.519,"lo":9.150,"hi":13.890},{"x":-4.789,"m":11.453,"lo":9.140,"hi":13.760},{"x":-4.696,"m":11.387,"lo":9.130,"hi":13.650},{"x":-4.603,"m":11.320,"lo":9.120,"hi":13.520},{"x":-4.510,"m":11.244,"lo":9.120,"hi":13.370},{"x":-4.417,"m":11.178,"lo":9.110,"hi":13.250},{"x":-4.324,"m":11.120,"lo":9.110,"hi":13.130},{"x":-4.231,"m":11.080,"lo":9.110,"hi":13.050},{"x":-4.138,"m":11.060,"lo":9.110,"hi":13.010},{"x":-4.045,"m":11.040,"lo":9.110,"hi":12.970},{"x":-3.952,"m":11.020,"lo":9.110,"hi":12.930},{"x":-3.859,"m":11.000,"lo":9.110,"hi":12.890},{"x":-3.766,"m":10.970,"lo":9.110,"hi":12.830},{"x":-3.673,"m":10.950,"lo":9.110,"hi":12.790},{"x":-3.580,"m":10.920,"lo":9.110,"hi":12.730},{"x":-3.487,"m":10.880,"lo":9.110,"hi":12.650},{"x":-3.394,"m":10.840,"lo":9.115,"hi":12.565},{"x":-3.301,"m":10.800,"lo":9.130,"hi":12.470},{"x":-3.208,"m":10.760,"lo":9.150,"hi":12.370},{"x":-3.115,"m":10.720,"lo":9.170,"hi":12.270},{"x":-3.022,"m":10.670,"lo":9.210,"hi":12.130},{"x":-2.929,"m":10.620,"lo":9.270,"hi":11.970},{"x":-2.836,"m":10.560,"lo":9.310,"hi":11.810},{"x":-2.743,"m":10.490,"lo":9.340,"hi":11.640},{"x":-2.650,"m":10.410,"lo":9.360,"hi":11.460},{"x":-2.557,"m":10.300,"lo":9.400,"hi":11.200},{"x":-2.464,"m":10.050,"lo":9.550,"hi":10.550},{"x":-2.371,"m":9.800,"lo":9.610,"hi":9.990},{"x":-2.278,"m":9.960,"lo":9.790,"hi":10.130},{"x":-2.185,"m":10.030,"lo":9.860,"hi":10.200},{"x":-2.092,"m":10.100,"lo":9.920,"hi":10.280},{"x":-1.999,"m":10.170,"lo":9.990,"hi":10.350},{"x":-1.906,"m":10.240,"lo":10.050,"hi":10.430},{"x":-1.813,"m":10.310,"lo":10.120,"hi":10.500},{"x":-1.720,"m":10.400,"lo":10.210,"hi":10.590},{"x":-1.627,"m":10.450,"lo":10.260,"hi":10.640}],
"H_n":[{"x":-6.370,"n":"19"},{"x":-5.998,"n":"18"},{"x":-5.626,"n":"17"},{"x":-5.254,"n":"17"},{"x":-4.882,"n":"16"},{"x":-4.510,"n":"15"},{"x":-4.138,"n":"15"},{"x":-3.766,"n":"15"},{"x":-3.394,"n":"15"},{"x":-3.022,"n":"15"},{"x":-2.650,"n":"14"},{"x":-2.278,"n":"9"},{"x":-1.999,"n":"2"},{"x":-1.720,"n":"1"}],
"H_v":[{"x":-2.371}]
},
"config":{
"view":{"stroke":"#4d4d4d","strokeWidth":1},
"title":{"anchor":"start","frame":"group","offset":0,"fontSize":15,"fontWeight":"bold","font":"Liberation Sans","color":"#000000"},
"axis":{"grid":false,"domain":false,"labelFont":"Liberation Sans","titleFont":"Liberation Sans","labelFontSize":7,"titleFontSize":7,"titleFontWeight":"normal","labelColor":"#111111","titleColor":"#111111","tickColor":"#333333","tickSize":4.5,"tickWidth":0.8,"labelFlush":false,"labelOverlap":false},
"axisX":{"labelPadding":4,"titlePadding":9},
"axisY":{"labelAngle":-90,"labelAlign":"center","labelBaseline":"bottom","labelPadding":5,"titlePadding":9},
"text":{"font":"Liberation Sans","fontSize":7,"color":"#111111"}
}
}
